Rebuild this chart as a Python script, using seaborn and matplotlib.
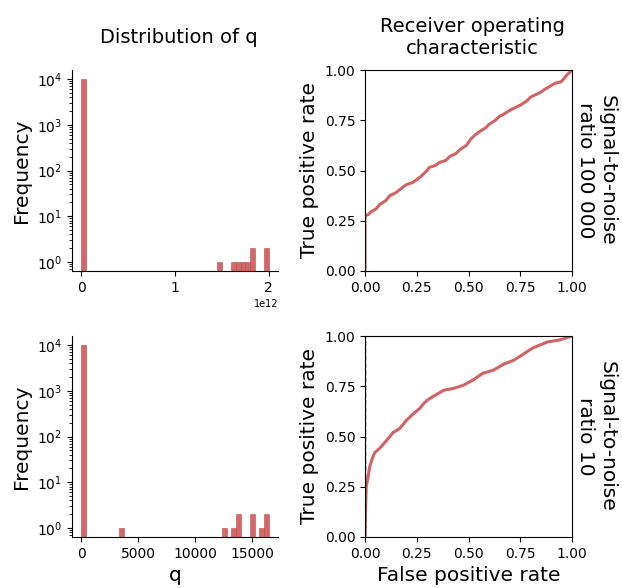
import numpy as np
import pandas as pd
import matplotlib
matplotlib.use("Agg")
import matplotlib.pyplot as plt
import seaborn as sns

# ---------------- data ----------------
# histogram of q (bin centres and counts), 40 bins each
q_top_centers = [0.025e12, 1.475e12, 1.625e12, 1.675e12, 1.725e12, 1.775e12, 1.825e12, 1.975e12]
q_top_counts = [9991, 1, 1, 1, 1, 1, 2, 2]
q_top_range = (0.0, 2.0e12)

q_bot_centers = [205, 3491, 12528, 13348, 13759, 15159, 15980, 16390]
q_bot_counts = [9990, 1, 1, 1, 2, 2, 1, 2]
q_bot_range = (0.0, 16430.0)
n_bins = 40

# ROC curves
roc_top_fpr = [0.0, 0.0, 0.015, 0.03, 0.055, 0.07, 0.10, 0.12, 0.15, 0.18, 0.20, 0.23, 0.25, 0.27,
               0.28, 0.30, 0.31, 0.34, 0.36, 0.39, 0.41, 0.44, 0.46, 0.49,
               0.51, 0.53, 0.555, 0.58, 0.60, 0.63, 0.65, 0.67, 0.70, 0.73, 0.75, 0.78, 0.80,
               0.83, 0.85, 0.87, 0.895, 0.92, 0.945, 0.96, 0.975, 1.0]
roc_top_tpr = [0.0, 0.275, 0.28, 0.295, 0.31, 0.33, 0.35, 0.375, 0.39, 0.415, 0.43, 0.44, 0.455, 0.47,
               0.48, 0.50, 0.515, 0.525, 0.54, 0.55, 0.57, 0.585, 0.605, 0.625,
               0.655, 0.675, 0.695, 0.71, 0.73, 0.75, 0.77, 0.78, 0.80, 0.815, 0.825, 0.845, 0.865,
               0.88, 0.89, 0.905, 0.92, 0.935, 0.94, 0.955, 0.975, 1.0]

roc_bot_fpr = [0.0, 0.003, 0.006, 0.015, 0.023, 0.035, 0.047, 0.07, 0.10, 0.12, 0.136, 0.168, 0.20,
               0.23, 0.265, 0.28, 0.30, 0.33, 0.38, 0.43, 0.475, 0.52, 0.57, 0.62, 0.67, 0.72,
               0.765, 0.81, 0.88, 0.94, 1.0]
roc_bot_tpr = [0.0, 0.15, 0.25, 0.30, 0.35, 0.39, 0.42, 0.44, 0.475, 0.50, 0.52, 0.54, 0.58,
               0.61, 0.64, 0.66, 0.68, 0.70, 0.73, 0.74, 0.755, 0.78, 0.815, 0.83, 0.86, 0.88,
               0.91, 0.94, 0.97, 0.98, 1.0]

row_labels = ["Signal-to-noise\nratio 100 000", "Signal-to-noise\nratio 10"]
col_titles = ["Distribution of q", "Receiver operating\ncharacteristic"]
roc_ticks = [0.0, 0.25, 0.5, 0.75, 1.0]

# ---------------- style ----------------
plt.rcParams["font.family"] = ["DejaVu Sans"]
red = "#c84848"

fig = plt.figure(figsize=(6.22, 5.88), dpi=100)
W, H = 622, 588
def add(l, t, w, h):
    return fig.add_axes([l / W, 1 - (t + h) / H, w / W, h / H])

ax_h1 = add(72, 70, 206, 201)
ax_r1 = add(365, 70, 207, 201)
ax_h2 = add(72, 336, 206, 201)
ax_r2 = add(365, 336, 207, 201)

hist_sets = [
    (ax_h1, q_top_centers, q_top_counts, q_top_range),
    (ax_h2, q_bot_centers, q_bot_counts, q_bot_range),
]
for ax, centers, counts, rng in hist_sets:
    df = pd.DataFrame({"q": centers, "n": counts})
    sns.histplot(data=df, x="q", weights="n", bins=n_bins, binrange=rng, ax=ax,
                 color=red, alpha=0.82, edgecolor=red, linewidth=0.4)
    ax.set_yscale("log")
    ax.set_ylim(10 ** -0.197, 10 ** 4.197)
    ax.set_ylabel("Frequency", fontsize=14.5)
    ax.tick_params(axis="both", labelsize=10)
    sns.despine(ax=ax)

ax_h1.set_xlabel("")
ax_h1.set_xticks([0, 1e12, 2e12])
ax_h1.xaxis.get_offset_text().set_fontsize(7)
ax_h2.set_xlabel("q", fontsize=14.5)
ax_h2.set_xticks([0, 5000, 10000, 15000])

roc_sets = [
    (ax_r1, roc_top_fpr, roc_top_tpr),
    (ax_r2, roc_bot_fpr, roc_bot_tpr),
]
for ax, fpr, tpr in roc_sets:
    df = pd.DataFrame({"fpr": fpr, "tpr": tpr})
    sns.lineplot(data=df, x="fpr", y="tpr", ax=ax, color=red, alpha=0.85, linewidth=2.2,
                 sort=False, estimator=None)
    ax.set_xlim(0, 1)
    ax.set_ylim(0, 1)
    ax.set_xticks(roc_ticks)
    ax.set_yticks(roc_ticks)
    ax.set_ylabel("True positive rate", fontsize=14.5)
    ax.tick_params(axis="both", labelsize=10)

ax_r2.axvline(0, color="k", linestyle="--", linewidth=1)
ax_r1.set_xlabel("")
ax_r2.set_xlabel("False positive rate", fontsize=14.5)

for ax, lab in zip([ax_r1, ax_r2], row_labels):
    ax.text(1.118, 0.5, lab, transform=ax.transAxes, rotation=270, fontsize=14.5,
            ha="center", va="center", multialignment="center")

for ax, t in zip([ax_h1, ax_r1], col_titles):
    ax.text(0.52, 1.16, t, transform=ax.transAxes, fontsize=14,
            ha="center", va="center", multialignment="center")

fig.savefig("out.png", dpi=100)
